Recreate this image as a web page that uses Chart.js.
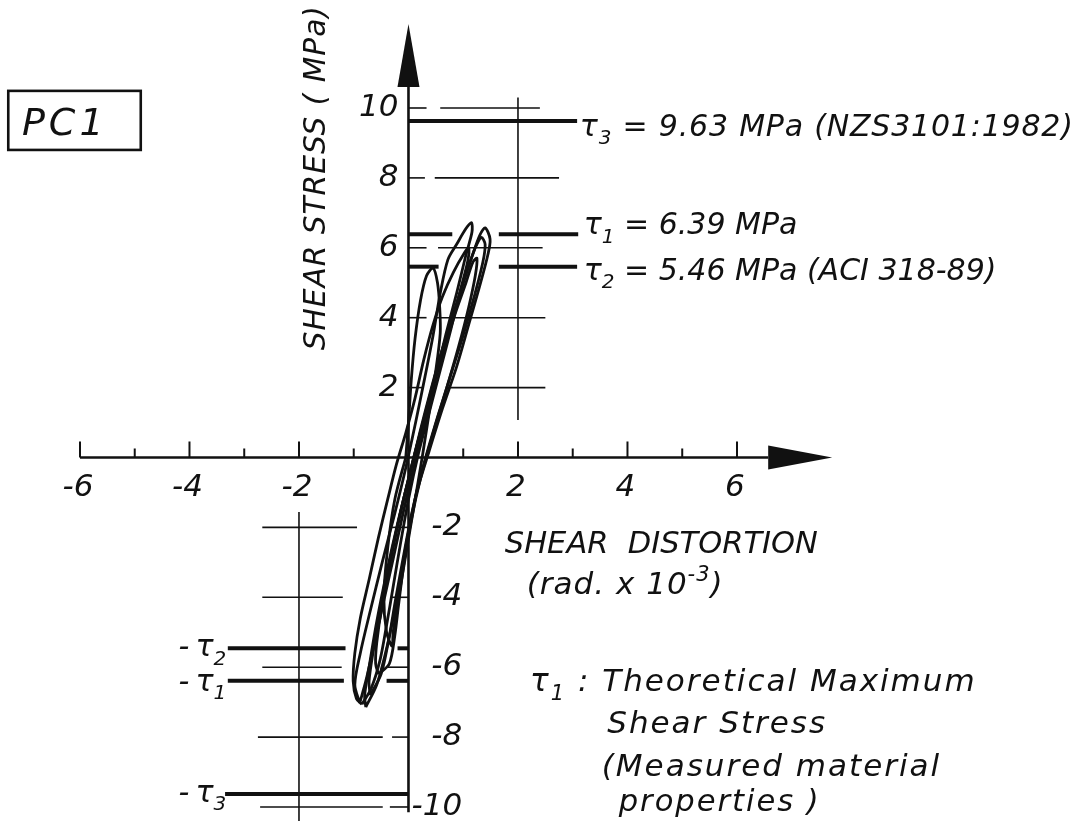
<!DOCTYPE html>
<html>
<head>
<meta charset="utf-8">
<title>PC1 shear stress - shear distortion</title>
<script src="https://cdn.jsdelivr.net/npm/chart.js@4.4.1/dist/chart.umd.min.js"></script>
<style>
  html, body { margin: 0; padding: 0; background: #fff; }
  #box { position: relative; width: 1082px; height: 821px; }
</style>
</head>
<body>
<div id="box"><canvas id="pc1Chart"></canvas></div>
<script>
// hysteresis cycles: [shear distortion (rad x 10^-3), shear stress (MPa)]
const cycleSmall = [[-0.05, 0.0], [0.0, 1.0], [0.05, 2.2], [0.12, 3.4], [0.22, 4.5], [0.33, 5.2], [0.45, 5.42],
  [0.53, 5.0], [0.57, 4.3], [0.58, 3.56], [0.5, 2.5], [0.38, 1.3], [0.25, 0.0], [0.1, -1.4], [-0.05, -2.8],
  [-0.18, -4.0], [-0.28, -5.0], [-0.3, -5.4], [-0.4, -5.0], [-0.45, -4.0], [-0.38, -2.6], [-0.25, -1.2], [-0.05, 0.0]];

const cycleA = [[-0.89, -7.02], [-0.78, -6.4], [-0.62, -5.3], [-0.45, -4.1], [-0.28, -2.9], [-0.1, -1.6], [0.08, -0.4],
  [0.28, 0.9], [0.48, 2.2], [0.68, 3.5], [0.88, 4.7], [1.05, 5.8], [1.16, 6.45], [1.15, 6.72], [1.05, 6.55],
  [0.88, 6.1], [0.72, 5.66], [0.58, 4.7], [0.45, 3.5], [0.3, 2.3], [0.13, 1.0], [-0.05, -0.3], [-0.25, -1.6],
  [-0.48, -3.0], [-0.7, -4.4], [-0.88, -5.6], [-0.98, -6.5], [-0.89, -7.02]];

const cycleB = [[-0.78, -7.14], [-0.58, -6.5], [-0.42, -5.6], [-0.28, -4.6], [-0.15, -3.5], [-0.02, -2.3], [0.15, -1.0],
  [0.38, 0.2], [0.62, 1.4], [0.88, 2.6], [1.1, 3.8], [1.3, 4.9], [1.45, 5.8], [1.49, 6.25], [1.40, 6.57],
  [1.3, 6.35], [1.15, 5.7], [0.98, 4.9], [0.8, 4.0], [0.6, 3.0], [0.42, 2.0], [0.22, 0.8], [0.02, -0.5],
  [-0.2, -1.9], [-0.4, -3.3], [-0.58, -4.7], [-0.72, -6.0], [-0.8, -6.8], [-0.78, -7.14]];

const cycleC = [[-0.85, -7.06], [-0.68, -6.6], [-0.52, -5.8], [-0.4, -4.8], [-0.28, -3.7], [-0.15, -2.5], [0.0, -1.2],
  [0.18, 0.1], [0.38, 1.3], [0.58, 2.5], [0.78, 3.7], [0.95, 4.8], [1.08, 5.6], [1.1, 6.0], [1.02, 5.85],
  [0.82, 5.3], [0.62, 4.6], [0.45, 3.8], [0.28, 2.8], [0.12, 1.7], [-0.05, 0.7], [-0.22, -0.2], [-0.38, -1.2],
  [-0.55, -2.3], [-0.72, -3.5], [-0.88, -4.6], [-0.98, -5.6], [-1.01, -6.4], [-0.95, -6.9], [-0.85, -7.06]];

const cycleD = [[-0.55, -6.2], [-0.35, -5.9], [-0.25, -5.1], [-0.18, -4.2], [-0.08, -3.0], [0.05, -1.8], [0.22, -0.6],
  [0.45, 0.7], [0.7, 2.0], [0.92, 3.2], [1.1, 4.3], [1.22, 5.2], [1.25, 5.7], [1.18, 5.6], [1.05, 5.0],
  [0.85, 4.1], [0.65, 3.1], [0.45, 2.0], [0.25, 0.9], [0.05, -0.3], [-0.15, -1.6], [-0.32, -2.9], [-0.48, -4.2],
  [-0.58, -5.3], [-0.6, -5.9], [-0.55, -6.2]];

const cycleE = [[-0.7, -6.8], [-0.5, -6.2], [-0.36, -5.2], [-0.24, -4.1], [-0.1, -2.9], [0.06, -1.6], [0.26, -0.3],
  [0.5, 1.0], [0.76, 2.3], [1.0, 3.5], [1.2, 4.6], [1.36, 5.6], [1.4, 6.1], [1.33, 6.3], [1.22, 6.0],
  [1.06, 5.3], [0.88, 4.4], [0.68, 3.4], [0.48, 2.3], [0.28, 1.1], [0.08, -0.1], [-0.12, -1.4], [-0.32, -2.8],
  [-0.5, -4.2], [-0.64, -5.5], [-0.72, -6.4], [-0.7, -6.8]];

// shear stress limits (MPa)
const tau1 = 6.39;   // theoretical maximum, measured material properties
const tau2 = 5.46;   // ACI 318-89
const tau3 = 9.63;   // NZS3101:1982

// axis ticks
const xMajorTicks = [-6, -4, -2, 2, 4, 6];
const xMinorTicks = [-5, -3, -1, 1, 3, 5];
const yPosTicks = [10, 8, 6, 4, 2];
const yNegTicks = [-2, -4, -6, -8, -10];

const INK = "#111";
const FAM = "'DejaVu Sans', 'Liberation Sans', sans-serif";

// hand-drawn guide lines, broken where the loops cross them
const posGuides = {
  10: [[0, 0.33], [0.58, 2.4]],
  8: [[0, 0.3], [0.48, 2.75]],
  6: [[0, 0.33], [0.54, 2.45]],
  4: [[0, 0.33], [0.52, 2.5]],
  2: [[0, 0.27], [0.7, 2.5]]
};
const negGuides = {
  "-2": [[-2.67, -0.94], [-0.3, 0]],
  "-4": [[-2.67, -1.2], [-0.3, 0]],
  "-6": [[-2.67, -1.22], [-0.4, 0]],
  "-8": [[-2.75, -0.47], [-0.3, 0]],
  "-10": [[-2.71, -0.47], [-0.34, 0]]
};

function helpers(chart) {
  const ctx = chart.ctx;
  const X = v => chart.scales.x.getPixelForValue(v);
  const Y = v => chart.scales.y.getPixelForValue(v);
  const seg = (x0, y0, x1, y1, w) => {
    ctx.lineWidth = w;
    ctx.beginPath();
    ctx.moveTo(X(x0), Y(y0));
    ctx.lineTo(X(x1), Y(y1));
    ctx.stroke();
  };
  const put = (s, x, y, size, align, base, spacing, maxW) => {
    ctx.save();
    ctx.font = "italic " + size + "px " + FAM;
    ctx.textAlign = align || "left";
    ctx.textBaseline = base || "alphabetic";
    ctx.letterSpacing = spacing || "0px";
    if (maxW) ctx.fillText(s, x, y, maxW); else ctx.fillText(s, x, y);
    ctx.restore();
  };
  // text with sub/superscripts: parts = [[text, shift]] where shift is 0, "sub" or "sup"
  const rich = (parts, x, y, size, align, spacing) => {
    ctx.save();
    ctx.textBaseline = "alphabetic";
    ctx.textAlign = "left";
    ctx.letterSpacing = spacing || "0px";
    const fontFor = p => "italic " + (p[1] ? Math.round(size * 0.68) : size) + "px " + FAM;
    let total = 0;
    parts.forEach(p => { ctx.font = fontFor(p); total += ctx.measureText(p[0]).width; });
    let cx = align === "right" ? x - total : x;
    parts.forEach(p => {
      ctx.font = fontFor(p);
      const dy = p[1] === "sub" ? size * 0.28 : p[1] === "sup" ? -size * 0.42 : 0;
      ctx.fillText(p[0], cx, y + dy);
      cx += ctx.measureText(p[0]).width;
    });
    ctx.restore();
  };
  return { ctx, X, Y, seg, put, rich };
}

const sketchPlugin = {
  id: "sketch",
  beforeDatasetsDraw(chart) {
    const { ctx, X, Y, seg } = helpers(chart);
    ctx.save();
    ctx.strokeStyle = INK;
    ctx.fillStyle = INK;
    ctx.lineCap = "butt";

    // thin guides
    Object.keys(posGuides).forEach(k => posGuides[k].forEach(([a, b]) => seg(a, +k, b, +k, 1.6)));
    Object.keys(negGuides).forEach(k => negGuides[k].forEach(([a, b]) => seg(a, +k, b, +k, 1.6)));
    seg(2, 1.07, 2, 10.3, 1.6);
    seg(-2, -1.56, -2, -10.5, 1.6);

    // stress limits, positive side
    seg(0, tau3, 3.08, tau3, 4);
    seg(0, tau1, 0.8, tau1, 4);
    seg(1.65, tau1, 3.1, tau1, 4);
    seg(0, tau2, 0.55, tau2, 4);
    seg(1.65, tau2, 3.08, tau2, 4);
    // negative side
    seg(-3.3, -tau2, -1.15, -tau2, 4);
    seg(-0.2, -tau2, 0, -tau2, 4);
    seg(-3.3, -tau1, -1.18, -tau1, 4);
    seg(-0.4, -tau1, 0, -tau1, 4);
    seg(-3.35, -tau3, 0, -tau3, 4);

    // axes
    seg(0, -10.15, 0, 10.6, 2.6);
    seg(-6, 0, 6.57, 0, 2.6);

    // arrow heads
    const ax = X(0), ay = Y(10.6);
    ctx.beginPath();
    ctx.moveTo(ax - 11, ay);
    ctx.lineTo(ax + 11, ay);
    ctx.lineTo(ax, ay - 63);
    ctx.closePath();
    ctx.fill();
    const bx = X(6.57), by = Y(0);
    ctx.beginPath();
    ctx.moveTo(bx, by - 12);
    ctx.lineTo(bx, by + 12);
    ctx.lineTo(bx + 64, by);
    ctx.closePath();
    ctx.fill();

    // x ticks, drawn above the axis
    ctx.lineWidth = 2;
    xMajorTicks.forEach(v => { ctx.beginPath(); ctx.moveTo(X(v), by); ctx.lineTo(X(v), by - 16); ctx.stroke(); });
    xMinorTicks.forEach(v => { ctx.beginPath(); ctx.moveTo(X(v), by); ctx.lineTo(X(v), by - 9); ctx.stroke(); });
    ctx.restore();
  },
  afterDatasetsDraw(chart) {
    const { ctx, X, Y, put, rich } = helpers(chart);
    ctx.save();
    ctx.fillStyle = INK;
    ctx.strokeStyle = INK;

    // specimen tag
    ctx.lineWidth = 2.6;
    ctx.strokeRect(X(-7.31), Y(10.49), X(-4.89) - X(-7.31), Y(8.8) - Y(10.49));
    put("PC1", X(-7.06), Y(9.23), 38, "left", "alphabetic", "4px");

    // vertical axis title
    ctx.save();
    ctx.translate(X(-1.52), Y(3.07));
    ctx.rotate(-Math.PI / 2);
    put("SHEAR STRESS ( MPa)", 0, 0, 30, "left", "alphabetic", "1px", 345);
    ctx.restore();

    // tick labels
    xMajorTicks.forEach(v => put(String(v), X(v) - 2, Y(0) + 15, 31, "center", "top"));
    yPosTicks.forEach(v => put(String(v), X(0) - 10, Y(v), 31, "right", "middle"));
    yNegTicks.forEach(v => put(String(v), X(0.98), Y(v), 31, "right", "middle"));

    // stress limit labels
    rich([["τ"], ["3", "sub"], [" = " + tau3.toFixed(2) + " MPa (NZS3101:1982)"]], X(3.13), Y(tau3) + 15, 30, "left", "0.8px");
    rich([["τ"], ["1", "sub"], [" = " + tau1.toFixed(2) + " MPa"]], X(3.2), Y(tau1), 30, "left");
    rich([["τ"], ["2", "sub"], [" = " + tau2.toFixed(2) + " MPa (ACI 318-89)"]], X(3.2), Y(tau2) + 13, 30, "left");
    rich([["-\u2009τ"], ["2", "sub"]], X(-3.33), Y(-tau2) + 8, 30, "right");
    rich([["-\u2009τ"], ["1", "sub"]], X(-3.33), Y(-tau1) + 10, 30, "right");
    rich([["-\u2009τ"], ["3", "sub"]], X(-3.33), Y(-tau3) + 8, 30, "right");

    // horizontal axis title
    put("SHEAR  DISTORTION", X(1.76), Y(-2.73), 31, "left", "alphabetic", "0px", 313);
    rich([["(rad. x 10"], ["-3", "sup"], [")"]], X(2.16), Y(-3.92), 31, "left", "1px");

    // note
    rich([["τ"], ["1", "sub"], [" : Theoretical Maximum"]], X(2.22), Y(-6.68), 31, "left", "2px");
    put("Shear Stress", X(3.63), Y(-7.88), 31, "left", "alphabetic", "2px", 240);
    put("(Measured material", X(3.53), Y(-9.11), 31, "left", "alphabetic", "2px", 373);
    put("properties )", X(3.84), Y(-10.11), 31, "left", "alphabetic", "2px", 202);
    ctx.restore();
  }
};

const cycles = [cycleSmall, cycleA, cycleB, cycleC, cycleD, cycleE];

new Chart(document.getElementById("pc1Chart"), {
  type: "scatter",
  data: {
    datasets: cycles.map((c, i) => ({
      label: "cycle " + (i + 1),
      data: c.map(([x, y]) => ({ x, y })),
      showLine: true,
      borderColor: INK,
      borderWidth: 2.8,
      pointRadius: 0,
      tension: 0.3,
      fill: false
    }))
  },
  options: {
    responsive: true,
    maintainAspectRatio: false,
    animation: false,
    layout: { padding: 0 },
    plugins: { legend: { display: false }, tooltip: { enabled: false } },
    scales: {
      x: { type: "linear", display: false, min: -7.461, max: 12.302 },
      y: { type: "linear", display: false, min: -10.401, max: 13.09 }
    }
  },
  plugins: [sketchPlugin]
});
</script>
</body>
</html>
